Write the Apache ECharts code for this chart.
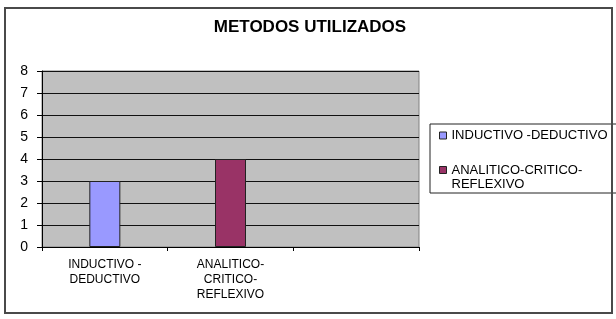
<!DOCTYPE html>
<html>
<head>
<meta charset="utf-8">
<script src="https://cdn.jsdelivr.net/npm/echarts@6/dist/echarts.min.js"></script>
<style>
  html, body { margin: 0; padding: 0; background: #fff; }
  #chart { width: 616px; height: 319px; }
</style>
</head>
<body>
<div id="chart"></div>
<script>
const chartTitle = 'METODOS UTILIZADOS';
const categories = ['INDUCTIVO -\nDEDUCTIVO', 'ANALITICO-\nCRITICO-\nREFLEXIVO', ''];
const seriesNames = ['INDUCTIVO -DEDUCTIVO', 'ANALITICO-CRITICO-REFLEXIVO'];
const legendLabels = ['INDUCTIVO -DEDUCTIVO', 'ANALITICO-CRITICO-\nREFLEXIVO'];
const inductivoValues = [3, '-', '-'];
const analiticoValues = ['-', 4, '-'];
const seriesColors = ['#9999FF', '#993366'];
const yMin = 0, yMax = 8, yStep = 1;

const FONT = '"Liberation Sans", Arial, sans-serif';

// legend markers: small square inside a taller invisible box so the
// square lines up with the first text line
const iconFirst = 'path://M0,0 M0,7.5 L7,7.5 L7,14.5 L0,14.5 Z M0,22';
const iconSecond = 'path://M0,0 M0,0.5 L7,0.5 L7,7.5 L0,7.5 Z M0,22';

const chart = echarts.init(document.getElementById('chart'), null, { renderer: 'canvas' });

const option = {
    animation: false,
    backgroundColor: '#fff',
    title: {
        text: chartTitle,
        left: 310,
        top: 19,
        padding: 0,
        textAlign: 'center',
        textStyle: { fontFamily: FONT, fontSize: 17, fontWeight: 'bold', color: '#000' }
    },
    legend: {
        orient: 'vertical',
        left: 430,
        top: 124,
        padding: [0, 19, 2, 9],
        itemGap: 16,
        itemWidth: 7,
        itemHeight: 22,
        borderColor: '#222',
        borderWidth: 1,
        backgroundColor: '#fff',
        itemStyle: { borderColor: '#222', borderWidth: 1 },
        data: [
            { name: seriesNames[0], icon: iconFirst },
            { name: seriesNames[1], icon: iconSecond }
        ],
        formatter: name => legendLabels[seriesNames.indexOf(name)],
        textStyle: { fontFamily: FONT, fontSize: 13, lineHeight: 14, color: '#000' }
    },
    grid: {
        left: 42, right: 197, top: 71, bottom: 72,
        show: true,
        backgroundColor: '#C0C0C0',
        borderColor: '#808080',
        borderWidth: 1,
        outerBoundsMode: 'none'
    },
    xAxis: {
        type: 'category',
        data: categories,
        axisLine: { show: true, lineStyle: { color: '#000', width: 1 } },
        axisTick: { show: true, length: 4, alignWithLabel: false, lineStyle: { color: '#000' } },
        axisLabel: {
            interval: 0, margin: 10, color: '#000',
            fontFamily: FONT, fontSize: 12, lineHeight: 15
        },
        splitLine: { show: false }
    },
    yAxis: {
        type: 'value',
        min: yMin, max: yMax, interval: yStep,
        axisLine: { show: true, lineStyle: { color: '#000', width: 1 } },
        axisTick: { show: true, length: 5, lineStyle: { color: '#000' } },
        axisLabel: { margin: 14, color: '#000', fontFamily: FONT, fontSize: 14 },
        splitLine: { show: true, lineStyle: { color: '#111', width: 1 } }
    },
    series: [
        {
            name: seriesNames[0],
            type: 'bar',
            stack: 'metodos',
            barWidth: 31,
            data: inductivoValues,
            itemStyle: { color: seriesColors[0], borderColor: '#222', borderWidth: 1 }
        },
        {
            name: seriesNames[1],
            type: 'bar',
            stack: 'metodos',
            barWidth: 31,
            data: analiticoValues,
            itemStyle: { color: seriesColors[1], borderColor: '#222', borderWidth: 1 }
        }
    ],
    graphic: [
        {
            type: 'rect',
            shape: { x: 5, y: 8, width: 607, height: 305 },
            style: { fill: 'none', stroke: '#4a4a4a', lineWidth: 2 },
            silent: true,
            z: 100
        }
    ]
};

chart.setOption(option);
</script>
</body>
</html>
